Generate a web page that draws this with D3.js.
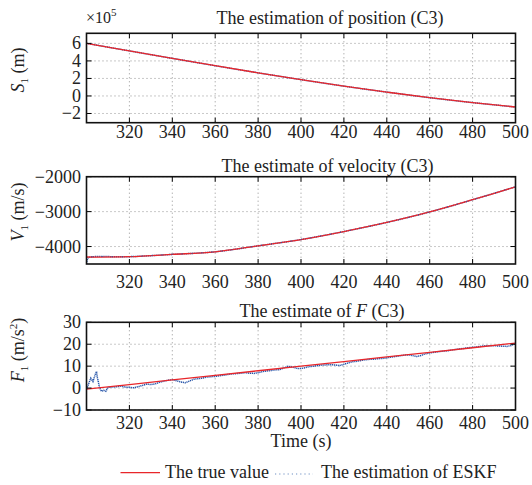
<!DOCTYPE html>
<html>
<head>
<meta charset="utf-8">
<script src="https://cdn.jsdelivr.net/npm/d3@7/dist/d3.min.js"></script>
<style>
  html, body { margin: 0; padding: 0; background: #fff; }
  svg { display: block; font-family: "Liberation Serif", "Times New Roman", serif; }
  .tick-label { font-size: 18px; fill: #222; }
  .title { font-size: 18px; fill: #222; }
  .ylabel { font-size: 18px; fill: #222; }
  .legend-text { font-size: 18px; fill: #222; }
</style>
</head>
<body>
<div id="chart"></div>
<script>
// ---- data ----
const timeTicks = [320, 340, 360, 380, 400, 420, 440, 460, 480, 500];
const timeTrue = [300, 320, 340, 360, 380, 400, 420, 440, 460, 480, 500];

// position, x10^5 m
const posTrue = [6.00, 5.14, 4.29, 3.45, 2.64, 1.86, 1.12, 0.44, -0.20, -0.76, -1.26];
const posEst = [6.00, 5.14, 4.29, 3.45, 2.64, 1.86, 1.12, 0.44, -0.20, -0.76, -1.26];

// velocity, m/s
const velTrue = [-4300, -4290, -4225, -4150, -3980, -3800, -3570, -3310, -3010, -2660, -2290];
const velEstTime = [300, 300.6, 301.5, 320, 340, 360, 380, 400, 420, 440, 460, 480, 500];
const velEst = [-4500, -4340, -4305, -4290, -4225, -4150, -3980, -3800, -3570, -3310, -3010, -2660, -2290];

// F, m/s^2
const accTrue = [-0.5, 1.6, 3.7, 5.8, 7.9, 10.0, 12.1, 14.2, 16.3, 18.4, 20.5];
const accEstTime = [300, 301, 302, 303, 304, 304.7, 305, 305.5, 306, 307, 308, 309,
  310, 312, 314, 316, 318, 320, 322, 324, 326, 328, 330, 332, 334, 336, 338, 340,
  342, 344, 346, 348, 350, 352, 354, 356, 358, 360, 362, 364, 366, 368, 370, 372,
  374, 376, 378, 380, 382, 384, 386, 388, 390, 392, 394, 396, 398, 400, 402, 404,
  406, 408, 410, 412, 414, 416, 418, 420, 422, 424, 426, 428, 430, 432, 434, 436,
  438, 440, 442, 444, 446, 448, 450, 452, 454, 456, 458, 460, 462, 464, 466, 468,
  470, 472, 474, 476, 478, 480, 482, 484, 486, 488, 490, 492, 494, 496, 498, 500];
const accEst = [-0.5, 2.0, 4.5, 3.0, 6.0, 7.6, 5.0, 3.0, 0.5, -1.5, -1.0, -1.5,
  0.3, 0.5, 0.6, 0.9, 0.5, 0.3, 0.1, 0.6, 1.2, 1.8, 1.6, 1.9, 2.6, 3.1, 3.6, 3.8,
  3.3, 2.8, 2.4, 3.2, 4.0, 4.3, 4.5, 5.0, 5.2, 5.3, 5.6, 5.9, 6.2, 6.5, 6.6, 6.8,
  7.0, 6.8, 6.7, 7.0, 7.5, 7.8, 8.0, 8.3, 8.4, 9.2, 9.9, 9.6, 9.0, 8.9, 9.3, 9.8,
  10.0, 10.3, 10.5, 10.6, 10.7, 10.5, 10.3, 10.8, 11.5, 12.0, 12.2, 12.6, 12.9, 13.1, 13.2, 13.4,
  13.5, 13.8, 14.1, 14.4, 14.7, 15.0, 15.2, 14.8, 14.4, 14.9, 15.6, 16.0, 16.3, 16.6, 16.8, 17.0,
  17.3, 17.6, 17.9, 18.1, 18.4, 18.6, 18.8, 19.1, 19.3, 19.3, 19.3, 19.2, 19.1, 19.0, 19.4, 20.5];

const width = 532, height = 485;
const red = '#e8262a', blue = '#2453a8';

const svg = d3.select('#chart').append('svg')
    .attr('width', width)
    .attr('height', height);

const x = d3.scaleLinear().domain([300, 500]).range([86.5, 515.5]);

/**
 * Draws one panel: grid, both series, box with inward ticks, labels
 */
function drawPanel(cfg) {
    const y = d3.scaleLinear().domain(cfg.yDomain).range([cfg.bottom, cfg.top]);
    const g = svg.append('g');
    const clipId = 'clip-' + cfg.id;

    g.append('clipPath').attr('id', clipId)
      .append('rect')
        .attr('x', x.range()[0]).attr('y', cfg.top)
        .attr('width', x.range()[1] - x.range()[0])
        .attr('height', cfg.bottom - cfg.top);

    // Grid
    g.selectAll('.vgrid').data(timeTicks).enter().append('line')
        .attr('x1', d => x(d)).attr('x2', d => x(d))
        .attr('y1', cfg.top).attr('y2', cfg.bottom)
        .attr('stroke', '#777').attr('stroke-width', 0.8)
        .attr('stroke-dasharray', '1,3');
    g.selectAll('.hgrid').data(cfg.yTicks).enter().append('line')
        .attr('x1', x.range()[0]).attr('x2', x.range()[1])
        .attr('y1', d => y(d)).attr('y2', d => y(d))
        .attr('stroke', '#777').attr('stroke-width', 0.8)
        .attr('stroke-dasharray', '1,3');

    const plot = g.append('g').attr('clip-path', `url(#${clipId})`);

    const line = d3.line()
        .x(d => x(d[0])).y(d => y(d[1]))
        .curve(cfg.smooth ? d3.curveCatmullRom : d3.curveLinear);

    // Estimate (blue dotted) then true value (red)
    plot.append('path')
        .datum(d3.zip(cfg.estTime, cfg.est))
        .attr('fill', 'none').attr('stroke', blue)
        .attr('stroke-width', 1.5).attr('stroke-dasharray', '1.2,0.7')
        .attr('d', d3.line().x(d => x(d[0])).y(d => y(d[1])).curve(cfg.smooth ? d3.curveCatmullRom : d3.curveLinear));
    plot.append('path')
        .datum(d3.zip(timeTrue, cfg.truth))
        .attr('fill', 'none').attr('stroke', red)
        .attr('stroke-width', 1.3)
        .attr('d', line);
    if (cfg.estOnTop) {
        plot.append('path')
            .datum(d3.zip(cfg.estTime, cfg.est))
            .attr('fill', 'none').attr('stroke', blue)
            .attr('stroke-width', 1).attr('stroke-dasharray', '1,9')
            .attr('d', d3.line().x(d => x(d[0])).y(d => y(d[1])).curve(d3.curveCatmullRom));
    }

    // Inward ticks on all four sides
    const tk = 5;
    timeTicks.forEach(t => {
        g.append('line').attr('x1', x(t)).attr('x2', x(t))
            .attr('y1', cfg.bottom).attr('y2', cfg.bottom - tk)
            .attr('stroke', '#000').attr('stroke-width', 1);
        g.append('line').attr('x1', x(t)).attr('x2', x(t))
            .attr('y1', cfg.top).attr('y2', cfg.top + tk)
            .attr('stroke', '#000').attr('stroke-width', 1);
    });
    cfg.yTicks.forEach(v => {
        g.append('line').attr('x1', x.range()[0]).attr('x2', x.range()[0] + tk)
            .attr('y1', y(v)).attr('y2', y(v))
            .attr('stroke', '#000').attr('stroke-width', 1);
        g.append('line').attr('x1', x.range()[1]).attr('x2', x.range()[1] - tk)
            .attr('y1', y(v)).attr('y2', y(v))
            .attr('stroke', '#000').attr('stroke-width', 1);
    });

    // Box
    g.append('rect')
        .attr('x', x.range()[0]).attr('y', cfg.top)
        .attr('width', x.range()[1] - x.range()[0])
        .attr('height', cfg.bottom - cfg.top)
        .attr('fill', 'none').attr('stroke', '#111').attr('stroke-width', 1.6);

    // Tick labels
    g.selectAll('.xl').data(timeTicks).enter().append('text')
        .attr('class', 'tick-label')
        .attr('x', d => x(d)).attr('y', cfg.xLabelY)
        .attr('text-anchor', 'middle')
        .text(d => d);
    g.selectAll('.yl').data(cfg.yTicks).enter().append('text')
        .attr('class', 'tick-label')
        .attr('x', 81).attr('y', d => y(d) + 6)
        .attr('text-anchor', 'end')
        .text(d => d3.format('d')(d));

    // Title
    const title = g.append('text').attr('class', 'title')
        .attr('x', cfg.titleX).attr('y', cfg.titleY)
        .attr('text-anchor', 'middle');
    cfg.title.forEach(part => {
        const s = title.append('tspan').text(part.t);
        if (part.i) s.attr('font-style', 'italic');
    });

    // Y label (rotated)
    const yl = g.append('text').attr('class', 'ylabel')
        .attr('transform', `translate(24, ${cfg.yLabelY}) rotate(-90)`)
        .attr('text-anchor', 'middle');
    yl.append('tspan').attr('font-style', 'italic').text(cfg.yVar);
    yl.append('tspan').attr('font-size', 11).attr('dy', 4).text('1');
    yl.append('tspan').attr('dy', -4).text(' (' + cfg.yUnit);
    if (cfg.yUnitSup) {
        yl.append('tspan').attr('font-size', 11).attr('dy', -7).text(cfg.yUnitSup);
        yl.append('tspan').attr('dy', 7).text(')');
    } else {
        yl.append('tspan').text(')');
    }
    return { g, y };
}

// Panel 1: position
const p1 = drawPanel({
    id: 'pos', top: 33.3, bottom: 122.7, yDomain: [-3.05, 7.15], yTicks: [-2, 0, 2, 4, 6],
    truth: posTrue, estTime: timeTrue, est: posEst, smooth: true,
    xLabelY: 137.5, titleX: 330, titleY: 24,
    title: [{ t: 'The estimation of position (C3)' }],
    yVar: 'S', yUnit: 'm', yLabelY: 70
});
const mult = p1.g.append('text').attr('x', 86).attr('y', 23).attr('font-size', 16).attr('fill', '#222');
mult.append('tspan').text('\u00d710');
mult.append('tspan').attr('font-size', 11).attr('dy', -7).text('5');

// Panel 2: velocity
drawPanel({
    id: 'vel', top: 176.7, bottom: 264, yDomain: [-4500, -2000], yTicks: [-4000, -3000, -2000],
    truth: velTrue, estTime: velEstTime, est: velEst, smooth: true, estOnTop: true,
    xLabelY: 288, titleX: 327.5, titleY: 171.7,
    title: [{ t: 'The estimate of velocity (C3)' }],
    yVar: 'V', yUnit: 'm/s', yLabelY: 212
});

// Panel 3: F
drawPanel({
    id: 'acc', top: 322.3, bottom: 410, yDomain: [-10, 30], yTicks: [-10, 0, 10, 20, 30],
    truth: accTrue, estTime: accEstTime, est: accEst, smooth: false,
    xLabelY: 428.5, titleX: 322, titleY: 316.7,
    title: [{ t: 'The estimate of ' }, { t: 'F', i: true }, { t: ' (C3)' }],
    yVar: 'F', yUnit: 'm/s', yUnitSup: '2', yLabelY: 350
});

svg.append('text').attr('class', 'tick-label')
    .attr('x', 301).attr('y', 446.5).attr('text-anchor', 'middle')
    .text('Time (s)');

// Legend
const legend = svg.append('g').attr('class', 'legend');
legend.append('line').attr('x1', 120.5).attr('x2', 160).attr('y1', 472.7).attr('y2', 472.7)
    .attr('stroke', red).attr('stroke-width', 1.3);
legend.append('text').attr('class', 'legend-text').attr('x', 165).attr('y', 477.5)
    .text('The true value');
legend.append('line').attr('x1', 275).attr('x2', 313).attr('y1', 474).attr('y2', 474)
    .attr('stroke', '#6f8fc4').attr('stroke-width', 1.2).attr('stroke-dasharray', '1.2,3');
legend.append('text').attr('class', 'legend-text').attr('x', 321).attr('y', 477.5)
    .text('The estimation of ESKF');
</script>
</body>
</html>
